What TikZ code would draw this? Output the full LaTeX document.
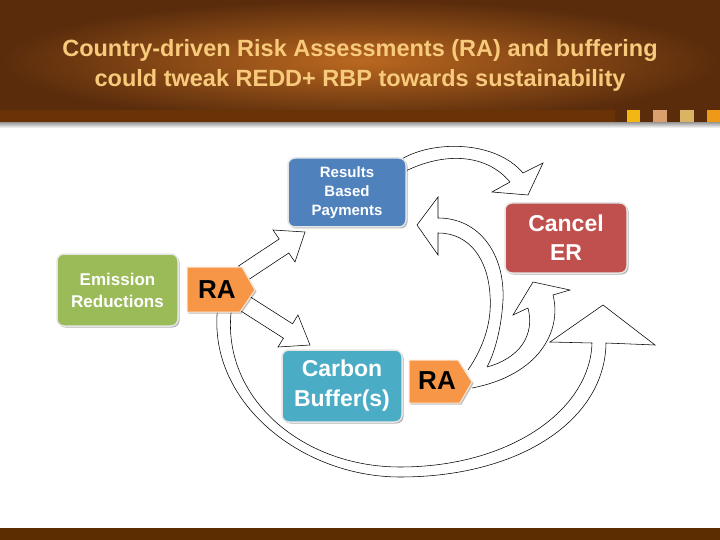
\documentclass[tikz,border=0pt]{standalone}
\usepackage{fontspec}
\setmainfont{Liberation Sans}
\usetikzlibrary{shadows}
\definecolor{rbpblue}{HTML}{4F81BD}
\definecolor{cancelred}{HTML}{C0504D}
\definecolor{emgreen}{HTML}{9BBB59}
\definecolor{cbteal}{HTML}{4BACC6}
\definecolor{raorange}{HTML}{F79646}
\definecolor{titlecol}{HTML}{F8CA7C}
\definecolor{bandbrown}{HTML}{6A3306}
\definecolor{footbrown}{HTML}{5C2D00}
\definecolor{hdrin}{HTML}{BA6820}
\definecolor{hdrout}{HTML}{5A2C0C}
\definecolor{sqa}{HTML}{F2B713}
\definecolor{sqb}{HTML}{D9A06E}
\definecolor{sqc}{HTML}{D8B463}
\definecolor{sqd}{HTML}{EE9A18}
\begin{document}
\begin{tikzpicture}[x=1pt,y=-1pt,
  box/.style={rounded corners=7pt, draw=white!90!black, line width=1.5pt, text=white,
    align=center, inner sep=0pt,
    drop shadow={shadow xshift=1.5pt,shadow yshift=-1.5pt,fill=black,opacity=0.3}},
  rashape/.style={fill=raorange, draw=white!80!raorange, line width=1pt,
    drop shadow={shadow xshift=1.5pt,shadow yshift=-1.5pt,fill=black,opacity=0.25}},
  ratext/.style={font=\bfseries\fontsize{26}{30}\selectfont, text=black, inner sep=0pt},
  arrowfill/.style={fill=white},
  arrowline/.style={draw=black, line width=0.55pt, line join=miter}
]
\useasboundingbox (0,0) rectangle (720,540);
\fill[white] (0,0) rectangle (720,540);
% header
\shade[inner color=hdrin, outer color=hdrout] (0,0) rectangle (720,122);
\fill[bandbrown] (0,110) rectangle (615,122);
\fill[sqa] (627,110) rectangle (640,123);
\fill[sqb] (653,110) rectangle (667,123);
\fill[sqc] (680,110) rectangle (694,123);
\fill[sqd] (707,110) rectangle (720,123);
\shade[top color=black!35, bottom color=white] (0,123) rectangle (720,128);
\node[font=\bfseries\fontsize{23.5}{30}\selectfont, text=titlecol, align=center] (title) at (360,65)
  {Country-driven Risk Assessments (RA) and buffering\\could tweak REDD+ RBP towards sustainability};
% footer
\fill[footbrown] (0,528) rectangle (720,540);

% straight block arrows from RA1
\filldraw[arrowfill, arrowline] (238.5,266) -- (279.2,239) -- (273,230) -- (305,232) -- (295,262) -- (288.8,253) -- (248,280) -- cycle;
\filldraw[arrowfill, arrowline] (247.8,295.3) -- (292.5,323.8) -- (298,315) -- (310,345) -- (278,347) -- (283.5,338.2) -- (238.8,309.7) -- cycle;

% big bottom curved arrow
\filldraw[arrowfill, arrowline] (218,305) .. controls (205,400) and (300,477) .. (400,477)
  .. controls (520,477) and (605,420) .. (606,343) -- (655,345) -- (603,305) -- (550,342) -- (592,343)
  .. controls (590,410) and (510,467) .. (400,467) .. controls (300,467) and (218,395) .. (232,305) -- cycle;

% curved arrow back to Results Based Payments
\path[arrowfill] (417,225) -- (438,197) -- (438,218) .. controls (480,218) and (505,255) .. (503,300)
  .. controls (501,335) and (492,358) .. (487,367) -- (468,370) .. controls (485,345) and (492,320) .. (490,295)
  .. controls (488,260) and (470,233) .. (438,233) -- (438,255) -- cycle;
\draw[arrowline] (468,370) .. controls (485,345) and (492,320) .. (490,295)
  .. controls (488,260) and (470,233) .. (438,233) -- (438,255) -- (417,225) -- (438,197) -- (438,218)
  .. controls (480,218) and (505,255) .. (503,300) .. controls (501,335) and (492,358) .. (487,367);

% curved arrow to Cancel ER from RA2
\path[arrowfill] (533,282) -- (570,290) -- (553,295) .. controls (562,330) and (540,375) .. (472,388)
  -- (487,367) .. controls (520,358) and (535,335) .. (528,308) -- (513,315) -- cycle;
\draw[arrowline] (472,388) .. controls (540,375) and (562,330) .. (553,295) -- (570,290) -- (533,282)
  -- (513,315) -- (528,308) .. controls (535,335) and (520,358) .. (487,367);

% top curved arrow RBP -> Cancel ER
\filldraw[arrowfill, arrowline] (400,160) .. controls (432,140) and (495,140) .. (523,173) -- (543,163) -- (528,195)
  -- (492,192) -- (510,182) .. controls (485,152) and (440,152) .. (400,174) -- cycle;

% boxes
\node[box, fill=rbpblue, minimum width=118pt, minimum height=69pt,
  font=\bfseries\fontsize{15}{19}\selectfont] (rbp) at (347,192.5) {Results\\Based\\Payments};
\node[box, fill=cancelred, minimum width=122pt, minimum height=70pt,
  font=\bfseries\fontsize{23}{29}\selectfont] (cancel) at (566,238) {Cancel\\ER};
\node[box, fill=emgreen, minimum width=121pt, minimum height=72pt,
  font=\bfseries\fontsize{17}{22}\selectfont] (emis) at (117.5,290) {Emission\\Reductions};
\node[box, fill=cbteal, minimum width=120pt, minimum height=72pt,
  font=\bfseries\fontsize{23}{30}\selectfont] (carbon) at (342,386) {Carbon\\Buffer(s)};

% RA tags
\draw[rashape] (187,267) -- (242,267) -- (255,290) -- (240,312) -- (187,312) -- cycle;
\node[ratext] (ra1) at (217,290) {RA};
\draw[rashape] (409,360) -- (458,360) -- (472,382) -- (460,403) -- (409,403) -- cycle;
\node[ratext] (ra2) at (437,381) {RA};
\end{tikzpicture}
\end{document}
